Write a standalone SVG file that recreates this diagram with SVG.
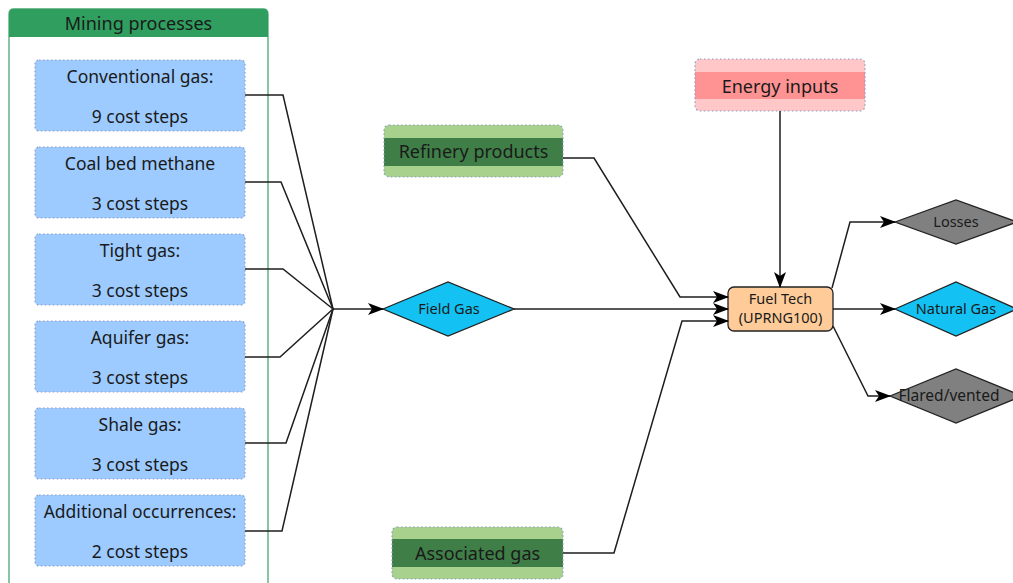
<svg xmlns="http://www.w3.org/2000/svg" width="1013" height="583" viewBox="0 0 1013 583">
  <defs>
    <marker id="arrow" viewBox="0 0 16 12" refX="15" refY="6" markerWidth="16" markerHeight="12" markerUnits="userSpaceOnUse" orient="auto">
      <path d="M0,0 L16,6 L0,12 L4,6 Z" fill="#000"/>
    </marker>
    <style>
      text { font-family: "Noto Sans", "Open Sans", sans-serif; fill: #1a1a1a; text-anchor: middle; }
      .src { fill: #9dcbff; stroke: #8f9cc4; stroke-width: 1.2; stroke-dasharray: 1.5 2.5; }
      .src-t { font-size: 17.5px; }
      .lbl { font-size: 18px; }
      .sm { font-size: 14.5px; }
      .conn { fill: none; stroke: #1e1e1e; stroke-width: 1.5; }
      .dot { stroke: #8f9cc4; stroke-width: 1.2; stroke-dasharray: 1.5 2.5; }
      .diam { stroke: #222; stroke-width: 1.3; }
    </style>
  </defs>

  <rect width="1013" height="583" fill="#ffffff"/>

  <!-- Mining processes container -->
  <g id="mining-processes">
    <path d="M9,600 L9,14 Q9,9 14,9 L263,9 Q268,9 268,14 L268,600" fill="#ffffff" stroke="#4aa873" stroke-width="1.3"/>
    <path d="M9,37 L9,14 Q9,9 14,9 L263,9 Q268,9 268,14 L268,37 Z" fill="#2f9e5f"/>
    <text class="lbl" x="138.5" y="30">Mining processes</text>
  </g>

  <g id="conventional-gas">
    <rect class="src" x="35" y="60" width="210" height="71" rx="4"/>
    <text class="src-t" x="140" y="83">Conventional gas:</text>
    <text class="src-t" x="140" y="123">9 cost steps</text>
  </g>
  <g id="coal-bed-methane">
    <rect class="src" x="35" y="147" width="210" height="71" rx="4"/>
    <text class="src-t" x="140" y="170">Coal bed methane</text>
    <text class="src-t" x="140" y="210">3 cost steps</text>
  </g>
  <g id="tight-gas">
    <rect class="src" x="35" y="234" width="210" height="71" rx="4"/>
    <text class="src-t" x="140" y="257">Tight gas:</text>
    <text class="src-t" x="140" y="297">3 cost steps</text>
  </g>
  <g id="aquifer-gas">
    <rect class="src" x="35" y="321" width="210" height="71" rx="4"/>
    <text class="src-t" x="140" y="344">Aquifer gas:</text>
    <text class="src-t" x="140" y="384">3 cost steps</text>
  </g>
  <g id="shale-gas">
    <rect class="src" x="35" y="408" width="210" height="71" rx="4"/>
    <text class="src-t" x="140" y="431">Shale gas:</text>
    <text class="src-t" x="140" y="471">3 cost steps</text>
  </g>
  <g id="additional-occurrences">
    <rect class="src" x="35" y="495" width="210" height="71" rx="4"/>
    <text class="src-t" x="140" y="518">Additional occurrences:</text>
    <text class="src-t" x="140" y="558">2 cost steps</text>
  </g>

  <!-- Refinery products -->
  <g id="refinery-products">
    <rect x="384" y="125" width="179" height="52" rx="5" fill="#a9d18e"/>
    <rect x="384" y="138" width="179" height="28" fill="#3f7f47"/>
    <rect class="dot" x="384" y="125" width="179" height="52" rx="5" fill="none"/>
    <text class="lbl" x="473.5" y="158">Refinery products</text>
  </g>

  <!-- Associated gas -->
  <g id="associated-gas">
    <rect x="392" y="527" width="171" height="52" rx="5" fill="#a9d18e"/>
    <rect x="392" y="539" width="171" height="28" fill="#3f7f47"/>
    <rect class="dot" x="392" y="527" width="171" height="52" rx="5" fill="none"/>
    <text class="lbl" x="477.5" y="560">Associated gas</text>
  </g>

  <!-- Energy inputs -->
  <g id="energy-inputs">
    <rect x="695" y="59" width="170" height="52" rx="5" fill="#ffc7c7"/>
    <rect x="695" y="72" width="170" height="27" fill="#ff9393"/>
    <rect class="dot" x="695" y="59" width="170" height="52" rx="5" fill="none"/>
    <text class="lbl" x="780" y="93">Energy inputs</text>
  </g>

  <!-- Field Gas -->
  <g id="field-gas">
    <polygon class="diam" points="383,309 448,282 514,309 448,336" fill="#13c2f2"/>
    <text class="sm" x="449" y="314">Field Gas</text>
  </g>

  <!-- Fuel Tech process -->
  <g id="fuel-tech">
    <rect x="728" y="287" width="105" height="44" rx="6" fill="#ffcc99" stroke="#222" stroke-width="1.3"/>
    <text class="sm" x="780.5" y="303.5" font-size="14px">Fuel Tech</text>
    <text class="sm" x="780.5" y="322.5" font-size="14px">(UPRNG100)</text>
  </g>

  <!-- Outputs -->
  <g id="losses">
    <polygon class="diam" points="895,222 956,200 1017,222 956,244" fill="#808080"/>
    <text class="sm" x="956" y="227">Losses</text>
  </g>
  <g id="natural-gas">
    <polygon class="diam" points="895,309 956,282 1017,309 956,336" fill="#13c2f2"/>
    <text class="sm" x="956" y="314">Natural Gas</text>
  </g>
  <g id="flared-vented">
    <polygon class="diam" points="890,396 956,369 1022,396 956,423" fill="#808080"/>
    <text class="sm" x="949" y="401" style="font-size:15.5px">Flared/vented</text>
  </g>

  <!-- Connectors -->
  <g id="connectors">
    <polyline class="conn" points="245,95 283,95 333,309"/>
    <polyline class="conn" points="245,182 281,182 333,309"/>
    <polyline class="conn" points="245,269 283,269 333,309"/>
    <polyline class="conn" points="245,357 280,357 333,309"/>
    <polyline class="conn" points="245,443 286,443 333,309"/>
    <polyline class="conn" points="245,531 282,531 333,309"/>
    <polyline class="conn" points="333,309 383,309" marker-end="url(#arrow)"/>

    <polyline class="conn" points="563,158 594,158 680,297 728,297" marker-end="url(#arrow)"/>
    <polyline class="conn" points="514,309 728,309" marker-end="url(#arrow)"/>
    <polyline class="conn" points="563,553 614,553 682,321 728,321" marker-end="url(#arrow)"/>
    <polyline class="conn" points="780,111 780,287" stroke="#444" stroke-width="2" fill="none" marker-end="url(#arrow)"/>

    <polyline class="conn" points="832,288 850,222 895,222" marker-end="url(#arrow)"/>
    <polyline class="conn" points="833,309 895,309" marker-end="url(#arrow)"/>
    <polyline class="conn" points="833,326 868,396 890,396" marker-end="url(#arrow)"/>
  </g>
</svg>
